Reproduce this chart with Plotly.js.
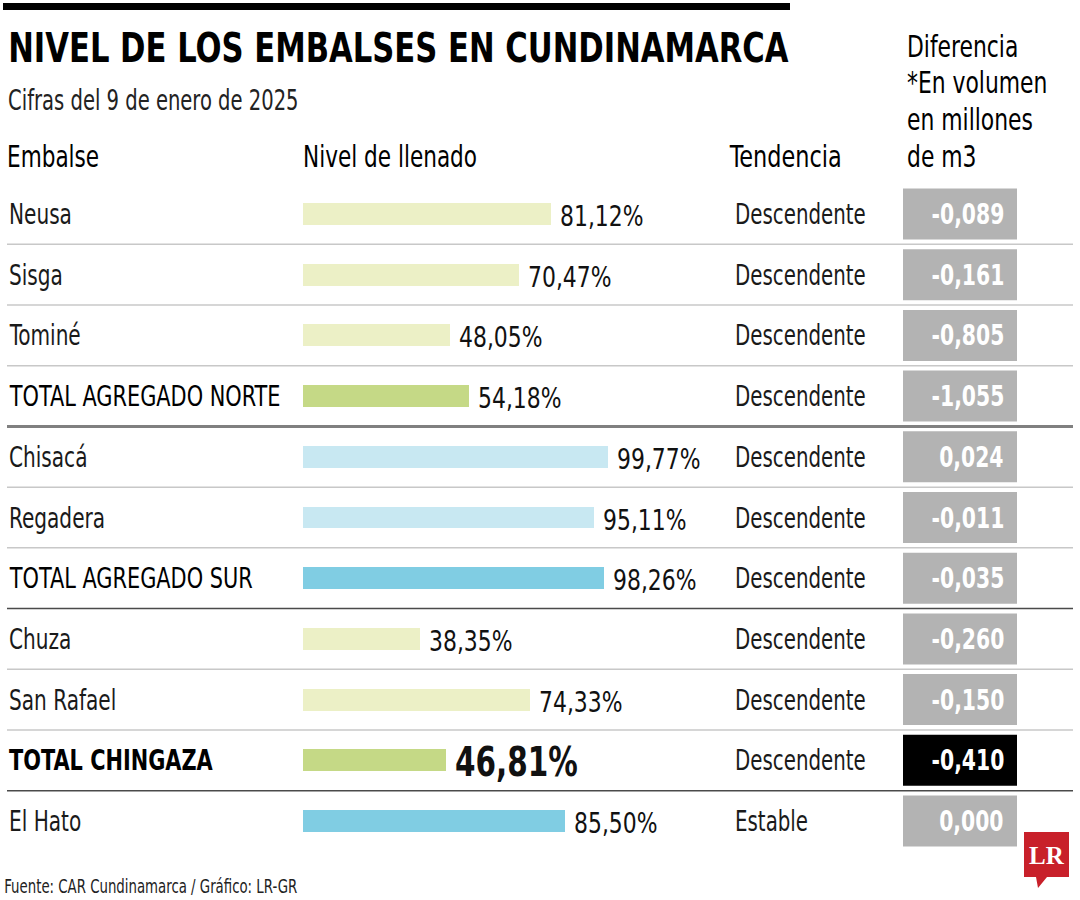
<!DOCTYPE html>
<html><head><meta charset="utf-8">
<script src="https://cdn.plot.ly/plotly-3.0.1.min.js"></script>
<style>html,body{margin:0;padding:0;background:#fff}#chart{width:1080px;height:900px}</style>
</head><body><div id="chart"></div>
<script>
// ---- data ----
const embalses = ["Neusa","Sisga","Tominé","TOTAL AGREGADO NORTE","Chisacá","Regadera","TOTAL AGREGADO SUR","Chuza","San Rafael","TOTAL CHINGAZA","El Hato"];
const nivel = [81.12,70.47,48.05,54.18,99.77,95.11,98.26,38.35,74.33,46.81,85.50];
const tendencia = ["Descendente","Descendente","Descendente","Descendente","Descendente","Descendente","Descendente","Descendente","Descendente","Descendente","Estable"];
const diferencia = [-0.089,-0.161,-0.805,-1.055,0.024,-0.011,-0.035,-0.260,-0.150,-0.410,0.000];
const headerDiferencia = ["Diferencia","*En volumen","en millones","de m3"];

// ---- styles ----
const barColors = ['#ecf0c6','#ecf0c6','#ecf0c6','#c5d986','#c8e8f2','#c8e8f2','#80cde3','#ecf0c6','#ecf0c6','#c5d986','#80cde3'];
const boxColors = ['#b3b3b3','#b3b3b3','#b3b3b3','#b3b3b3','#b3b3b3','#b3b3b3','#b3b3b3','#b3b3b3','#b3b3b3','#000000','#b3b3b3'];
const sepStyles = [
  {c:'#c8c8c8',w:1.5},{c:'#c8c8c8',w:1.5},{c:'#c8c8c8',w:1.5},{c:'#808080',w:3},
  {c:'#c8c8c8',w:1.5},{c:'#c8c8c8',w:1.5},{c:'#4a4a4a',w:1.5},
  {c:'#c8c8c8',w:1.5},{c:'#c8c8c8',w:1.5},{c:'#4a4a4a',w:1.5}
];

const W=1080,H=900;
const px = x=>x/W, py = y=>1-y/H;
const FONT = "'DejaVu Sans Condensed', 'DejaVu Sans', sans-serif";
const fmt = (v,d)=>v.toFixed(d).replace('.',',');

const rowTop = 214 - 30.35, rowBot = 821 + 30.35;

const trace = {
  type:'bar', orientation:'h', x:nivel, y:embalses,
  marker:{color:barColors, line:{width:0}}, width:0.36,
  hoverinfo:'skip', cliponaxis:false
};

const shapes = [];
const annotations = [];
const annSX = [];
function addAnn(a, sx){ a.showarrow=false; annotations.push(a); annSX.push(sx||1); }

// top black rule
shapes.push({type:'rect', xref:'paper', yref:'paper', x0:px(3), x1:px(790), y0:py(3), y1:py(10), fillcolor:'#000', line:{width:0}});

// separators
sepStyles.forEach((s,i)=>{
  shapes.push({type:'line', xref:'paper', yref:'y', x0:px(7), x1:px(1073), y0:i+0.5, y1:i+0.5, line:{color:s.c, width:s.w}});
});

// difference boxes
diferencia.forEach((v,i)=>{
  shapes.push({type:'rect', xref:'paper', yref:'y', x0:px(903), x1:px(1017), y0:i-0.42, y1:i+0.42, fillcolor:boxColors[i], line:{width:0}, layer:'below'});
  addAnn({xref:'paper', yref:'y', x:px(1006), y:embalses[i], xanchor:'right', yanchor:'middle',
    text:'<b>'+fmt(v,3)+'</b>', font:{family:FONT, size:29, color:'#fff'}}, 0.78);
});

// rows
embalses.forEach((name,i)=>{
  const isTotal = name.startsWith('TOTAL');
  const big = name === 'TOTAL CHINGAZA';
  addAnn({xref:'paper', yref:'y', x:px(7), y:name, xanchor:'left', yanchor:'middle',
    text: big ? '<b>'+name+'</b>' : name, font:{family:FONT, size:29, color: isTotal ? '#000' : '#1a1a1a'}}, big ? 0.80 : (isTotal ? 0.80 : 0.77));
  addAnn({xref:'x', yref:'y', x:nivel[i], y:name, xanchor:'left', yanchor:'middle', xshift:7, yshift:-2,
    text: big ? '<b>'+fmt(nivel[i],2)+'%</b>' : fmt(nivel[i],2)+'%', font:{family:FONT, size: big?40:29, color:'#111'}}, big ? 0.82 : 0.84);
  addAnn({xref:'paper', yref:'y', x:px(733), y:name, xanchor:'left', yanchor:'middle',
    text: tendencia[i], font:{family:FONT, size:29, color:'#1a1a1a'}}, 0.76);
});

// titles and headers
addAnn({xref:'paper', yref:'paper', x:px(6), y:py(48), xanchor:'left', yanchor:'middle',
  text:'<b>NIVEL DE LOS EMBALSES EN CUNDINAMARCA</b>', font:{family:FONT, size:40, color:'#000'}}, 0.852);
addAnn({xref:'paper', yref:'paper', x:px(6), y:py(100), xanchor:'left', yanchor:'middle',
  text:'Cifras del 9 de enero de 2025', font:{family:FONT, size:29, weight:200, color:'#222'}}, 0.75);
addAnn({xref:'paper', yref:'paper', x:px(5), y:py(157), xanchor:'left', yanchor:'middle',
  text:'Embalse', font:{family:FONT, size:30, color:'#000'}}, 0.80);
addAnn({xref:'paper', yref:'paper', x:px(301), y:py(157), xanchor:'left', yanchor:'middle',
  text:'Nivel de llenado', font:{family:FONT, size:30, color:'#000'}}, 0.80);
addAnn({xref:'paper', yref:'paper', x:px(727), y:py(157), xanchor:'left', yanchor:'middle',
  text:'Tendencia', font:{family:FONT, size:30, color:'#000'}}, 0.83);
const hdrY = [47, 83, 119, 156];
headerDiferencia.forEach((t,k)=>{
  addAnn({xref:'paper', yref:'paper', x:px(905), y:py(hdrY[k]), xanchor:'left', yanchor:'middle',
    text:t, font:{family:FONT, size:30, color:'#000'}}, 0.81);
});
addAnn({xref:'paper', yref:'paper', x:px(2), y:py(886), xanchor:'left', yanchor:'middle',
  text:'Fuente: CAR Cundinamarca / Gráfico: LR-GR', font:{family:FONT, size:19, color:'#222'}}, 0.78);

// LR logo
const L=px(1024), R=px(1069), T=py(832), B=py(877);
const t1=px(1036), t2=px(1047), tb=py(888), tx=px(1038);
shapes.push({type:'path', xref:'paper', yref:'paper', fillcolor:'#c8202a', line:{width:0},
  path:`M ${L} ${T} L ${R} ${T} L ${R} ${B} L ${t2} ${B} L ${tx} ${tb} L ${t1} ${B} L ${L} ${B} Z`});
addAnn({xref:'paper', yref:'paper', x:px(1046.5), y:py(855), xanchor:'center', yanchor:'middle',
  text:'<b>LR</b>', font:{family:"'Liberation Serif', 'DejaVu Serif', serif", size:25, color:'#fff'}}, 1);

const layout = {
  width:W, height:H, margin:{l:0,r:0,t:0,b:0}, paper_bgcolor:'#fff', plot_bgcolor:'rgba(0,0,0,0)',
  showlegend:false, bargap:0,
  xaxis:{range:[0,100], domain:[px(303), px(609)], visible:false, fixedrange:true},
  yaxis:{type:'category', range:[10.5,-0.5], domain:[py(rowBot), py(rowTop)], visible:false, fixedrange:true},
  shapes:shapes, annotations:annotations
};

// horizontally condense the text to imitate the narrow typeface of the original
function condense(){
  document.querySelectorAll('#chart g.annotation').forEach(g=>{
    const idx = +g.getAttribute('data-index');
    const sx = annSX[idx];
    if(!sx || sx===1) return;
    const a = annotations[idx];
    const t = g.querySelector('text.annotation-text');
    if(!t) return;
    const origin = a.xanchor==='right' ? 'right center' : (a.xanchor==='center' ? 'center center' : 'left center');
    t.style.transformBox = 'fill-box';
    t.style.transformOrigin = origin;
    t.style.transform = 'scaleX('+sx+')';
  });
}
Plotly.newPlot('chart', [trace], layout, {staticPlot:true, displayModeBar:false}).then(condense);
</script>
</body></html>
